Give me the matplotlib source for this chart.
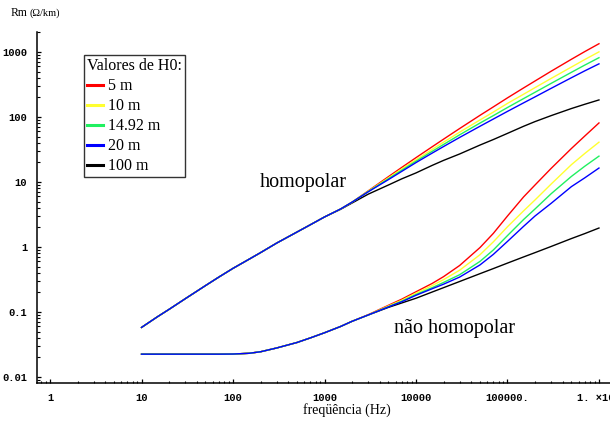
import matplotlib
matplotlib.use('Agg')
import matplotlib.pyplot as plt
from matplotlib.ticker import FixedLocator, LogLocator, NullFormatter, FixedFormatter

# ---------------- data ----------------
freq = [10, 15, 20, 30, 50, 70, 100, 150, 200, 300, 500, 700, 1000, 1500, 2000,
        3000, 5000, 7000, 10000, 15000, 20000, 30000, 50000, 70000, 100000,
        150000, 200000, 300000, 500000, 700000, 1000000]

labels = ["5 m", "10 m", "14.92 m", "20 m", "100 m"]
colors = ["#ff0000", "#ffff30", "#20f060", "#0000ff", "#000000"]

# homopolar  Rm (ohm/km)
hom_5 = [0.058, 0.085, 0.11, 0.16, 0.255, 0.345, 0.47, 0.65, 0.82, 1.15, 1.7, 2.2, 2.9, 3.85, 4.9,
         7.3, 12.1, 16.8, 23.7, 34.8, 45.6, 66.5, 106, 143, 197, 280, 358, 506, 773, 1015, 1340]
hom_10 = [0.058, 0.085, 0.11, 0.16, 0.255, 0.345, 0.47, 0.65, 0.82, 1.15, 1.7, 2.2, 2.9, 3.85, 4.9,
          7.2, 11.6, 15.9, 22.0, 31.7, 41.0, 58.5, 90, 119, 162, 224, 283, 392, 587, 766, 1005]
hom_1492 = [0.058, 0.085, 0.11, 0.16, 0.255, 0.345, 0.47, 0.65, 0.82, 1.15, 1.7, 2.2, 2.9, 3.85, 4.9,
            7.13, 11.25, 15.2, 20.9, 29.6, 37.8, 53.2, 80.6, 105, 140, 192, 240, 329, 487, 629, 817]
hom_20 = [0.058, 0.085, 0.11, 0.16, 0.255, 0.345, 0.47, 0.65, 0.82, 1.15, 1.7, 2.2, 2.9, 3.85, 4.9,
          7.06, 10.9, 14.6, 19.9, 27.8, 35.1, 48.5, 72, 93, 122, 165, 204, 276, 402, 513, 657]
hom_100 = [0.058, 0.085, 0.11, 0.16, 0.255, 0.345, 0.47, 0.65, 0.82, 1.15, 1.7, 2.2, 2.9, 3.8, 4.75,
           6.5, 9.0, 11.2, 13.8, 18, 21.5, 27, 37, 45, 56, 72, 85, 105, 135, 157, 183]

# nao homopolar  Rm (ohm/km)
nh_5 = [0.0225, 0.0225, 0.0225, 0.0225, 0.0225, 0.0225, 0.0226, 0.0232, 0.0245, 0.028, 0.034, 0.040,
        0.048, 0.060, 0.072, 0.091,
        0.127, 0.158, 0.205, 0.275, 0.35, 0.52, 0.98, 1.62, 3.0, 5.9, 9.0, 16.2, 32.8, 51, 81]
nh_10 = [0.0225, 0.0225, 0.0225, 0.0225, 0.0225, 0.0225, 0.0226, 0.0232, 0.0245, 0.028, 0.034, 0.040,
         0.048, 0.060, 0.072, 0.090,
         0.124, 0.152, 0.195, 0.255, 0.315, 0.44, 0.76, 1.2, 2.05, 3.6, 5.3, 9.3, 18.5, 27.5, 41]
nh_1492 = [0.0225, 0.0225, 0.0225, 0.0225, 0.0225, 0.0225, 0.0226, 0.0232, 0.0245, 0.028, 0.034, 0.040,
           0.048, 0.060, 0.072, 0.090,
           0.121, 0.147, 0.186, 0.237, 0.285, 0.375, 0.6, 0.9, 1.5, 2.65, 3.85, 6.6, 12.2, 17.5, 25]
nh_20 = [0.0225, 0.0225, 0.0225, 0.0225, 0.0225, 0.0225, 0.0226, 0.0232, 0.0245, 0.028, 0.034, 0.040,
         0.048, 0.060, 0.072, 0.090,
         0.12, 0.144, 0.181, 0.228, 0.268, 0.345, 0.53, 0.77, 1.22, 2.08, 3.0, 4.7, 8.5, 11.6, 16.4]
nh_100 = [0.0225, 0.0225, 0.0225, 0.0225, 0.0225, 0.0225, 0.0226, 0.0232, 0.0245, 0.028, 0.034, 0.040,
          0.048, 0.060, 0.072, 0.090,
          0.118, 0.138, 0.163, 0.203, 0.237, 0.295, 0.389, 0.466, 0.566, 0.704, 0.82, 1.02, 1.35, 1.61, 1.96]

x_ticks = [1, 10, 100, 1000, 10000, 100000, 1000000]
x_ticklabels = ["1", "10", "100", "1000", "10000", "100000.", "1. \u00d710\u2076"]
y_ticks = [0.01, 0.1, 1, 10, 100, 1000]
y_ticklabels = ["0.01", "0.1", "1", "10", "100", "1000"]

# ---------------- figure ----------------
W, H = 610, 426
fig = plt.figure(figsize=(W / 100, H / 100), dpi=100)
ax = fig.add_axes([37 / W, 43 / H, 1 - 37 / W, (383 - 32) / H])
ax.set_xscale('log')
ax.set_yscale('log')
ax.set_xlim(0.72, 1.32e6)
ax.set_ylim(0.0081, 2030)

hom = [hom_5, hom_10, hom_1492, hom_20, hom_100]
nh = [nh_5, nh_10, nh_1492, nh_20, nh_100]
order = [4, 0, 1, 2, 3]
handles = {}
for i in order:
    h, = ax.plot(freq, hom[i], color=colors[i], lw=1.0, label=labels[i])
    ax.plot(freq, nh[i], color=colors[i], lw=1.0)
    handles[i] = h

for s in ['top', 'right']:
    ax.spines[s].set_visible(False)
for s in ['left', 'bottom']:
    ax.spines[s].set_linewidth(1.1)

ax.xaxis.set_major_locator(FixedLocator(x_ticks))
ax.xaxis.set_major_formatter(FixedFormatter(x_ticklabels))
ax.yaxis.set_major_locator(FixedLocator(y_ticks))
ax.yaxis.set_major_formatter(FixedFormatter(y_ticklabels))
ax.xaxis.set_minor_locator(LogLocator(base=10, subs=range(2, 10), numticks=20))
ax.yaxis.set_minor_locator(LogLocator(base=10, subs=range(2, 10), numticks=20))
ax.xaxis.set_minor_formatter(NullFormatter())
ax.yaxis.set_minor_formatter(NullFormatter())
ax.tick_params(which='major', direction='in', length=3.2, width=0.9)
ax.tick_params(which='minor', direction='in', length=1.8, width=0.8)
ax.tick_params(axis='x', which='major', pad=7)
ax.tick_params(axis='y', which='major', pad=7)
for lab in ax.get_xticklabels() + ax.get_yticklabels():
    lab.set_fontfamily('Liberation Mono')
    lab.set_fontsize(7.5)
    lab.set_fontweight('bold')

leg = ax.legend([handles[i] for i in range(5)], labels, title='Valores de H0:',
                loc='upper left', bbox_to_anchor=(84 / W, 1 - 55 / H),
                bbox_transform=fig.transFigure,
                prop={'family': 'Liberation Serif', 'size': 11.5},
                title_fontproperties={'family': 'Liberation Serif', 'size': 11.5},
                frameon=True, fancybox=False, edgecolor='#333333', framealpha=1,
                borderpad=0.2, labelspacing=0.25, handlelength=1.0, handletextpad=0.3,
                borderaxespad=0, alignment='left')
leg.get_frame().set_linewidth(1.0)
for h in leg.legend_handles:
    h.set_linewidth(2.2)

serif = 'Liberation Serif'
fig.text(303 / W, 1 - 183 / H, 'homopolar', family=serif, size=14.5, ha='center', va='center')
fig.text(454 / W, 1 - 328 / H, 'não homopolar', family=serif, size=14.5, ha='center', va='center')
fig.text(11 / W, 1 - 13 / H, 'Rm', family=serif, size=8.5, ha='left', va='center')
fig.text(29 / W, 1 - 13 / H, '(\u03a9/km)', family=serif, size=7.5, ha='left', va='center')
fig.text(347 / W, 1 - 410 / H, 'freqüência (Hz)', family=serif, size=10, ha='center', va='center')

fig.savefig('out.png', dpi=100)
